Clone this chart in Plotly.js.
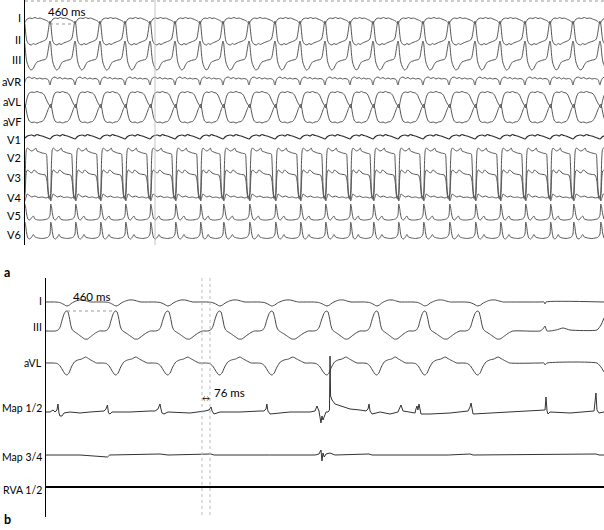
<!DOCTYPE html>
<html><head><meta charset="utf-8">
<script src="https://cdn.plot.ly/plotly-3.0.1.min.js"></script>
<style>html,body{margin:0;padding:0;background:#fff}#chart{width:604px;height:530px}</style>
</head><body><div id="chart"></div>
<script>
// ================= DATA =================
// Panel a: 12-lead surface ECG, QRS times (ms from left edge of the strip)
const leadsA = ['I','II','III','aVR','aVL','aVF','V1','V2','V3','V4','V5','V6'];
const beatTimesA = [-18, 460, 920, 1380, 1840, 2300, 2760, 3220, 3643, 4122, 4600, 5060, 5520, 5980, 6403, 6863, 7323, 7802, 8280, 8740, 9200, 9660, 10083, 10580];

// One-beat waveforms per lead: [fraction of cycle from QRS, amplitude]
const beatA_I   = [[0,-4],[0.05,-1.5],[0.12,1],[0.22,2],[0.32,1.5],[0.42,2.5],[0.52,1.5],[0.62,2],[0.72,1],[0.82,0],[0.9,-1],[0.96,-2.5],[1,-4]];
const beatA_II  = [[0,19],[0.03,16],[0.07,6],[0.11,-1],[0.18,-4],[0.28,-5],[0.36,-3.5],[0.44,-4.5],[0.55,-3],[0.65,-2],[0.75,-1],[0.83,0],[0.88,2],[0.93,9],[0.97,16],[1,19]];
const beatA_III = [[0,19],[0.03,16],[0.07,5],[0.11,-2],[0.18,-7],[0.26,-10],[0.34,-9],[0.42,-5],[0.5,-2],[0.6,-1],[0.72,0],[0.82,0.5],[0.88,3],[0.93,10],[0.97,16],[1,19]];
const beatA_aVR = [[0,-5],[0.04,-1],[0.1,2],[0.2,3],[0.3,1.5],[0.4,2.5],[0.5,1],[0.6,2],[0.7,1],[0.8,1.5],[0.88,1],[0.94,0],[0.97,-3],[1,-5]];
const beatA_aVL = [[0,-6],[0.03,-8],[0.07,-4],[0.13,3],[0.2,7],[0.3,8],[0.4,7.5],[0.5,8.5],[0.6,7.5],[0.7,7],[0.78,5],[0.85,1],[0.92,-3],[0.97,-5],[1,-6]];
const beatA_aVF = [[0,14],[0.03,16],[0.07,12],[0.13,4],[0.2,-1],[0.3,-2.5],[0.4,-2],[0.5,-3],[0.6,-2],[0.7,-1.5],[0.78,1],[0.85,5],[0.92,10],[0.97,13],[1,14]];
const beatA_V1  = [[0,-2],[0.08,0],[0.18,1.5],[0.3,2],[0.4,1],[0.5,2.5],[0.6,1.5],[0.7,1],[0.8,0],[0.9,-1],[1,-2]];
const beatA_V2  = [[0,-45],[0.03,-40],[0.06,-10],[0.09,2],[0.13,4],[0.18,3],[0.28,1],[0.38,2],[0.45,4],[0.5,1],[0.6,0],[0.7,-1],[0.8,-1.5],[0.86,-2],[0.89,-12],[0.93,-38],[0.97,-45],[1,-45]];
const beatA_V3  = [[0,-27],[0.04,-22],[0.07,-5],[0.1,1],[0.15,2],[0.22,0],[0.3,-1],[0.38,2],[0.45,1],[0.52,-1],[0.62,-2],[0.72,-2.5],[0.82,-3],[0.88,-8],[0.93,-22],[0.97,-27],[1,-27]];
const beatA_V4  = [[0,0],[0.03,-4],[0.07,-1],[0.12,3],[0.18,2],[0.3,0],[0.42,1],[0.55,-0.5],[0.7,0],[0.85,-1],[0.93,0],[1,0]];
const beatA_V5  = [[0,4],[0.03,15],[0.06,12],[0.1,5],[0.15,0],[0.22,-1],[0.3,1.5],[0.36,3],[0.42,0],[0.55,-1],[0.7,-1],[0.82,-0.5],[0.9,0],[0.95,1],[1,4]];
const beatA_V6  = [[0,4],[0.03,16],[0.06,13],[0.1,5],[0.15,0],[0.22,-1],[0.3,1],[0.36,3.5],[0.42,1],[0.55,0],[0.7,-0.5],[0.82,0],[0.9,0.5],[0.95,1.5],[1,4]];

// Panel b: intracardiac recording, QRS times (ms)
const leadsB = ['I','III','aVL','Map 1/2','Map 3/4','RVA 1/2'];
const beatTimesB = [188, 627, 1092, 1557, 2023, 2515, 2962, 3392, 3866];
const beatB_I   = [[0,-4],[0.05,-3],[0.1,-1],[0.18,1],[0.25,2],[0.33,2],[0.4,1],[0.48,0],[0.6,0],[0.75,0],[0.85,-0.5],[0.92,-2],[0.97,-3.5],[1,-4]];
const beatB_III = [[0,20],[0.02,19],[0.05,13],[0.08,5],[0.11,1],[0.16,-1],[0.22,-3],[0.3,-6],[0.36,-8],[0.42,-8],[0.5,-5],[0.58,-2],[0.66,0],[0.76,0],[0.82,1],[0.86,4],[0.9,11],[0.94,17],[0.97,19.5],[1,20]];
const beatB_aVL = [[0,-12],[0.04,-10],[0.09,-4],[0.15,1],[0.22,3],[0.3,4],[0.38,6],[0.45,4],[0.52,2],[0.6,0],[0.72,0],[0.8,-0.5],[0.86,-3],[0.92,-8],[0.97,-11.5],[1,-12]];
// after termination of the tachycardia: [ms, amplitude]
const afterB_I   = [[4421,0],[4457,0],[4466,-2],[4475,0],[4994,0]];
const afterB_III = [[4421,0],[4448,2],[4466,5],[4484,0],[4565,1],[4627,3],[4690,1],[4931,1],[4967,6],[4994,13]];
const afterB_aVL = [[4421,0],[4457,0],[4466,-2],[4484,0],[4931,0],[4967,-4],[4994,-9]];
// Map 1/2 electrogram: [ms, amplitude]
const map12 = [[0,0],[36,0],[63,2],[81,0],[98,2],[107,8],[116,-1],[125,-4],[143,-4],[161,-1],[215,0],[304,-1],[394,0],[483,1],[519,1],[537,3],[550,7],[559,-1],[573,-2],[591,0],[752,0],[931,1],[976,1],[1002,3],[1020,8],[1029,3],[1038,-1],[1056,-2],[1092,0],[1289,-1],[1378,0],[1423,1],[1459,2],[1477,5],[1486,1],[1504,-2],[1557,0],[1736,0],[1915,1],[1951,1],[1969,3],[1977,8],[1986,1],[2005,-2],[2184,0],[2363,0],[2408,1],[2425,6],[2443,1],[2452,-4],[2461,-11],[2470,-4],[2479,-8],[2506,0],[2524,0],[2537,2],[2542,56],[2547,16],[2551,14],[2560,12],[2587,8],[2658,5],[2721,3],[2811,2],[2864,1],[2882,3],[2891,8],[2900,1],[2918,-2],[2990,0],[3079,-2],[3150,0],[3168,4],[3177,7],[3195,1],[3258,0],[3303,-1],[3311,3],[3320,6],[3329,2],[3338,8],[3356,-2],[3437,-2],[3616,-1],[3777,1],[3795,5],[3804,9],[3822,-2],[3974,-1],[4153,0],[4332,1],[4466,2],[4475,15],[4484,1],[4493,-2],[4511,0],[4690,-1],[4869,1],[4905,1],[4922,19],[4931,2],[4949,-1],[4994,0]];
const map34 = [[0,0],[304,0],[550,-2],[570,0],[1020,1],[1092,0],[1477,1],[1504,0],[2000,0],[2408,0],[2443,1],[2461,5],[2470,-6],[2479,2],[2490,-2],[2506,1],[2542,2],[2560,1],[2587,0],[2891,1],[2918,0],[3600,0],[3795,1],[3822,0],[4922,1],[4949,0],[4994,0]];
const rva12 = [[0,0],[4994,0]];

const cycleLabel = '460 ms';
const delayLabel = '76 ms';
const delayTimes = [1396, 1468];

// ================= LAYOUT / STYLE =================
const W = 604, H = 530;
const baseA = {I:20, II:40, III:60, aVR:80, aVL:100, aVF:120, V1:137, V2:152, V3:172, V4:197, V5:219, V6:238};
const labelYA = {I:18, II:40, III:60, aVR:82, aVL:102, aVF:121, V1:139, V2:158, V3:178, V4:197, V5:215, V6:234};
const baseB = {'I':302, 'III':331, 'aVL':363, 'Map 1/2':412, 'Map 3/4':455, 'RVA 1/2':487};
const labelYB = {'I':301, 'III':327, 'aVL':363, 'Map 1/2':408, 'Map 3/4':457, 'RVA 1/2':490};

function build(beats, tpl, preCut, postCut) {
  const xs = [], ys = [];
  const n = beats.length;
  for (let i = 0; i < n; i++) {
    const t0 = beats[i];
    const span = i < n - 1 ? beats[i + 1] - t0 : t0 - beats[i - 1];
    if (i === 0 && preCut != null) {
      const first = tpl.find(p => p[0] >= preCut);
      xs.push(0); ys.push(first[1]);
      for (const [f, v] of tpl) if (f >= preCut && f < 1) { xs.push(t0 - (1 - f) * span); ys.push(v); }
    }
    for (const [f, v] of tpl) {
      if (f === 1 && i < n - 1) continue;
      if (i === n - 1 && postCut != null && f > postCut) continue;
      xs.push(t0 + f * span); ys.push(v);
    }
  }
  return {xs, ys};
}

const traces = [];
const tplA = {I:beatA_I, II:beatA_II, III:beatA_III, aVR:beatA_aVR, aVL:beatA_aVL, aVF:beatA_aVF, V1:beatA_V1, V2:beatA_V2, V3:beatA_V3, V4:beatA_V4, V5:beatA_V5, V6:beatA_V6};
leadsA.forEach(l => {
  const r = build(beatTimesA, tplA[l]);
  traces.push({x: r.xs, y: r.ys.map(v => v - baseA[l]), xaxis:'x', yaxis:'y', type:'scatter', mode:'lines',
    line:{color: l === 'V1' ? '#2a2a2a' : '#555', width: l === 'V1' ? 1.2 : 1, shape:'spline', smoothing:0.6}, hoverinfo:'skip'});
});
const tplB = {'I':[beatB_I, afterB_I], 'III':[beatB_III, afterB_III], 'aVL':[beatB_aVL, afterB_aVL]};
['I','III','aVL'].forEach(l => {
  const r = build(beatTimesB, tplB[l][0], 0.7, 0.7);
  tplB[l][1].forEach(p => { r.xs.push(p[0]); r.ys.push(p[1]); });
  traces.push({x: r.xs, y: r.ys.map(v => v - baseB[l]), xaxis:'x2', yaxis:'y2', type:'scatter', mode:'lines',
    line:{color:'#444', width:1, shape:'spline', smoothing:0.5}, hoverinfo:'skip'});
});
[['Map 1/2', map12, 1, '#333'], ['Map 3/4', map34, 1, '#333'], ['RVA 1/2', rva12, 2, '#000']].forEach(([l, d, w, c]) => {
  traces.push({x: d.map(p => p[0]), y: d.map(p => p[1] - baseB[l]), xaxis:'x2', yaxis:'y2', type:'scatter', mode:'lines',
    line:{color:c, width:w}, hoverinfo:'skip'});
});

const px = x => x / W, py = y => 1 - y / H;
const font = {family:'Lato, Roboto, sans-serif', size:11, color:'#000'};
const fontB = {...font, size:10.5};
const annotations = [];
const lab = (x, y, t, f) => ({xref:'paper', yref:'paper', x, y, xanchor:'right', yanchor:'middle', text:t, showarrow:false, borderpad:0, font:f || font});
leadsA.forEach(l => annotations.push(lab(px(22), py(labelYA[l]), l)));
leadsB.forEach(l => annotations.push(lab(px(43), py(labelYB[l]), l, fontB)));
annotations.push({xref:'paper', yref:'paper', x:px(3), y:py(272), xanchor:'left', yanchor:'middle', text:'<b>a</b>', showarrow:false, borderpad:0, font:{...font, size:12.5}});
annotations.push({xref:'paper', yref:'paper', x:px(3), y:py(519), xanchor:'left', yanchor:'middle', text:'<b>b</b>', showarrow:false, borderpad:0, font:{...font, size:12.5}});
annotations.push({xref:'x', yref:'y', x:beatTimesA[1] - 80, y:-11, xanchor:'left', yanchor:'middle', text:cycleLabel, showarrow:false, font:{...font, size:11.5}});
annotations.push({xref:'x2', yref:'y2', x:beatTimesB[0] + 40, y:-296, xanchor:'left', yanchor:'middle', text:cycleLabel, showarrow:false, font:{...font, size:11.5}});
annotations.push({xref:'x2', yref:'y2', x:delayTimes[1] + 20, y:-392, xanchor:'left', yanchor:'middle', text:delayLabel, showarrow:false, font:{...font, size:11.5}});
annotations.push({xref:'x2', yref:'y2', x:(delayTimes[0] + delayTimes[1]) / 2, y:-398, xanchor:'center', yanchor:'middle', text:'↔', showarrow:false, font:{...font, size:8}});

const shapes = [
  {type:'line', xref:'x', yref:'y', x0:0, x1:10654, y0:-1, y1:-1, line:{color:'#999', width:1, dash:'dot'}},
  {type:'line', xref:'x', yref:'y', x0:2392, x1:2392, y0:-245, y1:0, line:{color:'#c4c4c4', width:1}},
  {type:'line', xref:'x', yref:'y', x0:beatTimesA[1], x1:beatTimesA[2], y0:-24, y1:-24, line:{color:'#999', width:1, dash:'dot'}},
  {type:'line', xref:'x2', yref:'y2', x0:beatTimesB[0], x1:beatTimesB[1], y0:-311, y1:-311, line:{color:'#999', width:1, dash:'dot'}},
  {type:'line', xref:'x2', yref:'y2', x0:delayTimes[0], x1:delayTimes[0], y0:-515, y1:-278, line:{color:'#bbb', width:1, dash:'dot'}},
  {type:'line', xref:'x2', yref:'y2', x0:delayTimes[1], x1:delayTimes[1], y0:-515, y1:-278, line:{color:'#bbb', width:1, dash:'dot'}}
];

const noAx = {showgrid:false, zeroline:false, showticklabels:false, ticks:'', fixedrange:true};
const layout = {
  width:W, height:H, margin:{l:0, r:0, t:0, b:0}, showlegend:false,
  paper_bgcolor:'#fff', plot_bgcolor:'#fff',
  xaxis:{...noAx, domain:[px(25), 1], range:[0, 10654], anchor:'y'},
  yaxis:{...noAx, domain:[py(245), 1], range:[-245, 0], anchor:'x', showline:true, linecolor:'#000', linewidth:1},
  xaxis2:{...noAx, domain:[px(46), 1], range:[0, 4994], anchor:'y2'},
  yaxis2:{...noAx, domain:[py(517), py(278)], range:[-517, -278], anchor:'x2', showline:true, linecolor:'#000', linewidth:1},
  annotations, shapes
};
Plotly.newPlot('chart', traces, layout, {staticPlot:true, displayModeBar:false});
</script></body></html>
